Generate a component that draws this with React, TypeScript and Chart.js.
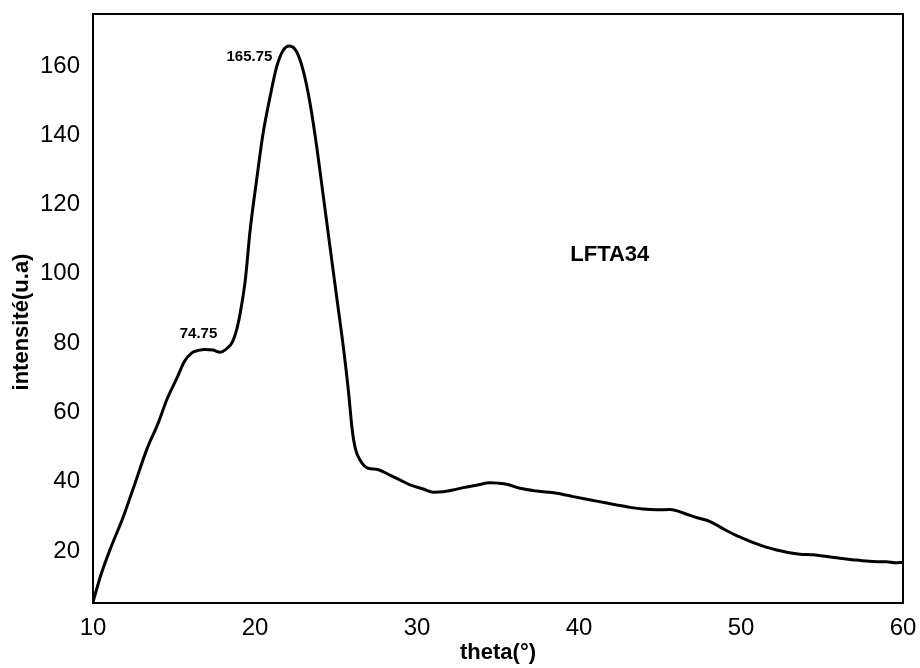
import React, { useEffect, useRef } from "react";
import { Chart, registerables } from "chart.js";

Chart.register(...registerables);

// Diffraction pattern of sample LFTA34
const thetaValues = [
  10.0, 10.5, 11.05, 11.87, 12.59, 13.31, 14.03, 14.55, 15.17, 15.65, 16.1, 16.5, 16.9, 17.4, 17.85,
  18.3, 18.6, 18.9, 19.1, 19.4, 19.7, 20.1, 20.5, 20.93, 21.34, 21.75, 22.12, 22.57, 22.98,
  23.4, 23.81, 24.22, 24.63, 25.04, 25.45, 25.76, 26.0, 26.2, 26.48, 26.99, 27.51, 28.33,
  29.0, 29.57, 30.39, 31.0, 31.62, 32.2, 32.86, 33.68, 34.5, 35.0, 35.54, 36.36, 37.39,
  38.62, 39.65, 40.4, 41.09, 42.32, 43.15, 43.97, 44.8, 45.62, 46.65, 47.3, 48.09, 48.8,
  49.53, 50.2, 50.76, 51.5, 52.2, 52.9, 53.64, 54.46, 55.3, 56.1, 56.9, 57.76, 58.4, 58.99,
  59.5, 60.0,
];
const intensityValues = [
  5.3, 13.3, 20.4, 29.9, 39.5, 49.2, 57.0, 63.6, 69.8, 74.75, 77.2, 77.9, 78.2, 78.0, 77.4,
  78.6, 80.3, 84.5, 89.0, 98.2, 112.6, 127.1, 140.6, 151.1, 159.8, 164.6, 165.75, 164.1, 158.6,
  149.2, 136.7, 122.3, 107.8, 93.4, 79.0, 66.5, 55.0, 49.5, 46.3, 43.9, 43.6, 41.9,
  40.4, 39.1, 37.9, 37.0, 37.1, 37.6, 38.3, 39.0, 39.7, 39.6, 39.3, 38.1, 37.3,
  36.7, 35.7, 35.0, 34.4, 33.3, 32.6, 32.1, 31.9, 32.0, 30.6, 29.6, 28.5, 26.7,
  24.9, 23.5, 22.4, 21.2, 20.3, 19.6, 19.1, 18.9, 18.4, 17.9, 17.5, 17.1, 16.9, 16.9,
  16.6, 16.7,
];

const xTickValues = [10, 20, 30, 40, 50, 60];
const yTickValues = [20, 40, 60, 80, 100, 120, 140, 160];
const labeledIntensities = [165.75, 74.75];

const sampleName = "LFTA34";
const xAxisTitle = "theta(°)";
const yAxisTitle = "intensité(u.a)";

const FONT = "'Liberation Sans', Arial, Helvetica, sans-serif";

const framePlugin = {
  id: "frame",
  afterDatasetsDraw(chart: any) {
    const { ctx, chartArea } = chart;
    ctx.save();
    ctx.strokeStyle = "#000";
    ctx.lineWidth = 2;
    ctx.strokeRect(
      chartArea.left,
      chartArea.top,
      chartArea.right - chartArea.left,
      chartArea.bottom - chartArea.top
    );
    ctx.restore();
  },
};

const textPlugin = {
  id: "texts",
  afterDraw(chart: any) {
    const { ctx, scales } = chart;
    const meta = chart.getDatasetMeta(0);
    ctx.save();
    ctx.fillStyle = "#000";

    // value labels next to the main peak and the shoulder
    ctx.font = `bold 15px ${FONT}`;
    ctx.textBaseline = "middle";
    labeledIntensities.forEach((v, i) => {
      const idx = intensityValues.indexOf(v);
      if (idx < 0) return;
      const pt = meta.data[idx];
      const text = v.toFixed(2);
      if (i === 0) {
        ctx.textAlign = "right";
        ctx.fillText(text, pt.x - 17, pt.y + 11);
      } else {
        ctx.textAlign = "center";
        ctx.fillText(text, pt.x + 14, pt.y - 27);
      }
    });

    // sample name
    ctx.font = `bold 22px ${FONT}`;
    ctx.textAlign = "center";
    ctx.fillText(sampleName, scales.x.getPixelForValue(41.9), scales.y.getPixelForValue(105.5));

    // y axis title
    ctx.translate(22, 322);
    ctx.rotate(-Math.PI / 2);
    ctx.font = `bold 22px ${FONT}`;
    ctx.textAlign = "center";
    ctx.fillText(yAxisTitle, 0, 0);
    ctx.restore();
  },
};

export default function App() {
  const canvasRef = useRef<HTMLCanvasElement | null>(null);

  useEffect(() => {
    if (!canvasRef.current) return;
    const points = thetaValues.map((x, i) => ({ x, y: intensityValues[i] }));
    const chart = new Chart(canvasRef.current, {
      type: "line",
      data: {
        datasets: [
          {
            label: sampleName,
            data: points,
            borderColor: "#000",
            borderWidth: 3,
            pointRadius: 0,
            cubicInterpolationMode: "monotone",
            borderJoinStyle: "round",
            borderCapStyle: "round",
            fill: false,
          },
        ],
      },
      options: {
        animation: false,
        responsive: false,
        layout: { padding: { top: 14, right: 17, left: 0, bottom: 0 } },
        plugins: {
          legend: { display: false },
          tooltip: { enabled: false },
        },
        scales: {
          x: {
            type: "linear",
            min: 10,
            max: 60,
            grid: { display: false, drawTicks: false },
            border: { display: false },
            afterBuildTicks: (scale: any) => {
              scale.ticks = xTickValues.map((value) => ({ value }));
            },
            afterFit: (scale: any) => {
              scale.height = 65;
              scale.paddingLeft = 0;
              scale.paddingRight = 0;
            },
            ticks: {
              color: "#000",
              padding: 11,
              maxRotation: 0,
              font: { family: FONT, size: 24 },
            },
            title: {
              display: true,
              text: xAxisTitle,
              color: "#000",
              padding: { top: 0, bottom: 2 },
              font: { family: FONT, size: 22, weight: "bold" },
            },
          },
          y: {
            type: "linear",
            min: 5,
            max: 175,
            grid: { display: false, drawTicks: false },
            border: { display: false },
            afterBuildTicks: (scale: any) => {
              scale.ticks = yTickValues.map((value) => ({ value }));
            },
            afterFit: (scale: any) => {
              scale.width = 93;
              scale.paddingTop = 0;
              scale.paddingBottom = 0;
            },
            ticks: {
              color: "#000",
              padding: 13,
              font: { family: FONT, size: 24 },
            },
          },
        },
      },
      plugins: [framePlugin, textPlugin],
    });
    return () => chart.destroy();
  }, []);

  return (
    <div style={{ position: "fixed", left: 0, top: 0, width: 920, height: 668, background: "#fff" }}>
      <canvas ref={canvasRef} width={920} height={668} style={{ display: "block" }} />
    </div>
  );
}
